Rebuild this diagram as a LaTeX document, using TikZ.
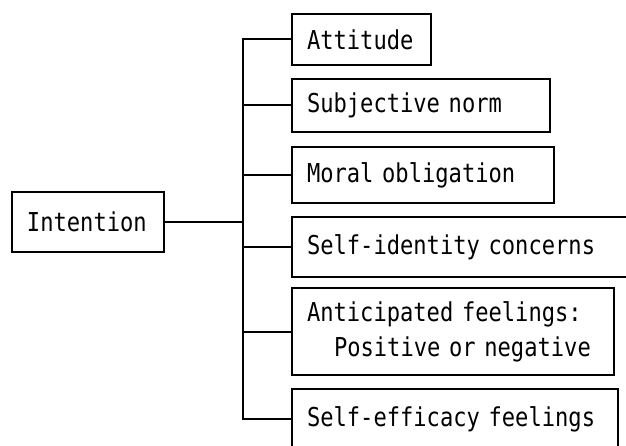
\documentclass[tikz,border=0pt]{standalone}
\usepackage{fontspec}
\newfontfamily\boxfont[FakeStretch=0.85]{DejaVu Sans Mono}
\hyphenpenalty=10000
\exhyphenpenalty=10000
\begin{document}
\begin{tikzpicture}[x=1pt,y=-1pt,
  box/.style={draw, line width=2pt, anchor=north west, inner xsep=15pt,
    inner ysep=0pt, align=left, font=\boxfont\fontsize{26}{35}\selectfont},
  link/.style={line width=2pt, line cap=rect}]
  \path[use as bounding box, fill=white] (0,0) rectangle (626,446);
  \clip (0,0) rectangle (626,446);

  % source box
  \node[box, minimum width=152pt, minimum height=60pt, text width=122pt] (int) at (11,191) {Intention};

  % determinant boxes
  \node[box, minimum width=139pt, minimum height=51pt, text width=109pt] (att) at (291,13) {Attitude};
  \node[box, minimum width=258pt, minimum height=53pt, text width=228pt] (sub) at (291,78) {Subjective norm};
  \node[box, minimum width=262pt, minimum height=56pt, text width=232pt] (mor) at (291,146) {Moral obligation};
  \node[box, minimum width=345pt, minimum height=60pt, text width=315pt] (sid) at (291,216) {\mbox{Self-identity concerns}};
  \node[box, minimum width=322pt, minimum height=87pt, text width=292pt] (ant) at (291,287)
    {\mbox{Anticipated feelings:}\\\hspace*{27pt}\mbox{Positive or negative}};
  \node[box, minimum width=326pt, minimum height=60pt, text width=296pt] (eff) at (291,388) {\mbox{Self-efficacy feelings}};

  % bracket connecting them
  \coordinate (tk) at (243,0);
  \draw[link] (tk |- att.west) -- (tk |- eff.west);
  \draw[link] (int.east) -- (tk |- int.east);
  \foreach \n in {att,sub,mor,sid,ant,eff}
    \draw[link] (tk |- \n.west) -- (\n.west);
\end{tikzpicture}
\end{document}
